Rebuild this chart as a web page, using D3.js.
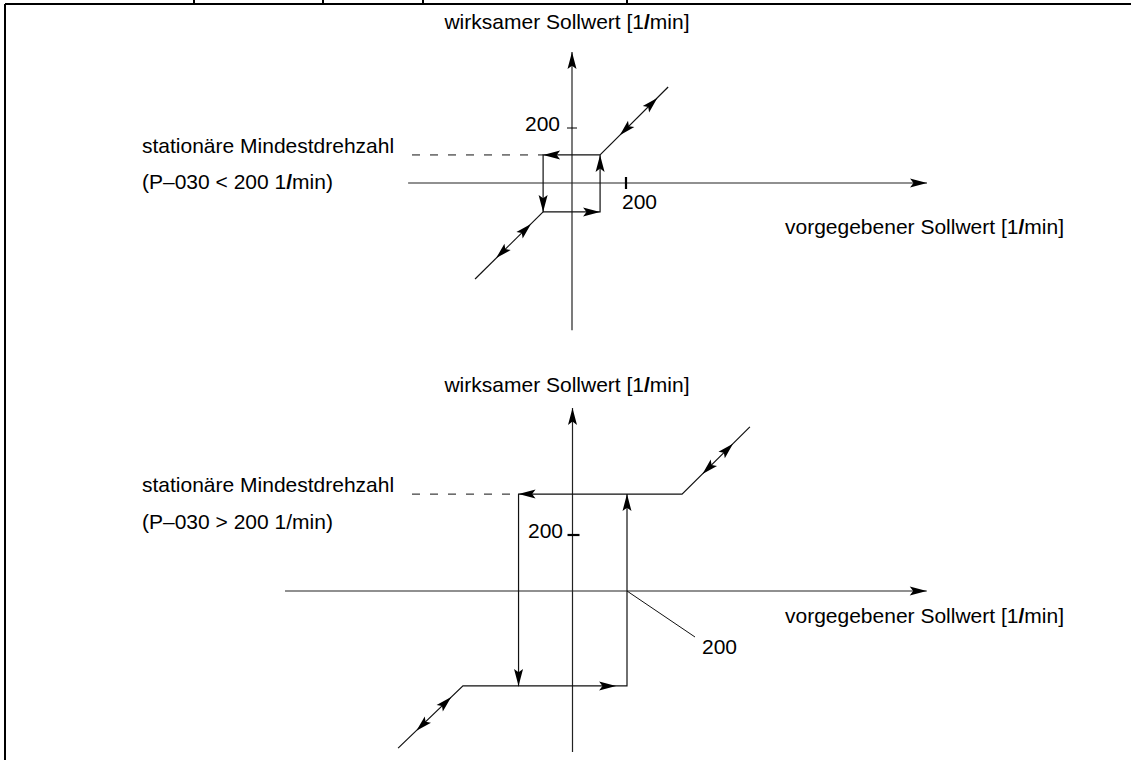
<!DOCTYPE html>
<html>
<head>
<meta charset="utf-8">
<script src="https://cdn.jsdelivr.net/npm/d3@7"></script>
<style>
  html, body { margin: 0; padding: 0; background: #fff; }
  svg text { font-family: "Liberation Sans", Arial, sans-serif; font-size: 21px; fill: #000; }
</style>
</head>
<body>
<svg id="chart" width="1131" height="760"></svg>
<script>
// ---------------- DATA (values in 1/min) ----------------
const tickValue = 200;
const axisLabelY = "wirksamer Sollwert [1/min]";
const axisLabelX = "vorgegebener Sollwert [1/min]";
const minLabel = "stationäre Mindestdrehzahl";
const condTop = "(P–030 < 200 1/min)";
const condBottom = "(P–030 > 200 1/min)";

// Top chart: P-030 < 200
const topXExtent = [-607, 1315];
const topYExtent = [-535, 476];
const topLoop = [[-107, 102], [104, 102], [104, -105], [-107, -105]];   // UL, UR, LR, LL
const topDiagUpper = [[104, 102], [356, 349]];
const topDiagLower = [[-107, -105], [-359, -349]];
const topDoubleArrows = [
  [[177, 174], [316, 309]],
  [[-152, -149], [-281, -273]]
];

// Bottom chart: P-030 > 200
const botXExtent = [-1055, 1300];
const botYExtent = [-575, 654];
const botLoop = [[-198, 346], [200, 346], [200, -339], [-198, -339]];
const botUpperRight = [[200, 346], [402, 346], [651, 586]];
const botLowerLeft = [[-198, -339], [-402, -339], [-640, -561]];
const botDoubleArrows = [
  [[477, 418], [589, 526]],
  [[-445, -379], [-573, -499]]
];

// ---------------- DRAWING ----------------
const svg = d3.select("#chart");
const ink = "#111";

// frame
svg.append("line").attr("x1", 5).attr("x2", 1131).attr("y1", 4).attr("y2", 4)
  .attr("stroke", "#000").attr("stroke-width", 2);
svg.append("line").attr("x1", 5).attr("x2", 5).attr("y1", 4).attr("y2", 760)
  .attr("stroke", "#000").attr("stroke-width", 2);
[194, 323, 423, 627].forEach(x => {
  svg.append("line").attr("x1", x).attr("x2", x).attr("y1", 0).attr("y2", 4)
    .attr("stroke", "#000").attr("stroke-width", 2);
});

function arrowHead(g, tip, from, len, half) {
  const dx = tip[0] - from[0], dy = tip[1] - from[1];
  const d = Math.hypot(dx, dy) || 1;
  const ux = dx / d, uy = dy / d;
  const bx = tip[0] - ux * len, by = tip[1] - uy * len;
  const px = -uy * half, py = ux * half;
  g.append("path")
    .attr("d", `M${tip[0]},${tip[1]}L${bx + px},${by + py}L${tip[0] - ux * len * 0.8},${tip[1] - uy * len * 0.8}L${bx - px},${by - py}Z`)
    .attr("fill", "#000");
}

function slashText(sel, str, boldSlash) {
  const parts = str.split("/");
  parts.forEach((p, i) => {
    if (i > 0) {
      const t = sel.append("tspan").text("/");
      if (boldSlash) t.attr("font-weight", "bold");
    }
    sel.append("tspan").text(p);
  });
}

function drawChart(cfg) {
  const g = svg.append("g");
  const x = d3.scaleLinear().domain([0, tickValue]).range(cfg.xRange);
  const y = d3.scaleLinear().domain([0, tickValue]).range(cfg.yRange);
  const P = p => [x(p[0]), y(p[1])];

  // axes
  g.append("line").attr("x1", x(cfg.xExt[0])).attr("x2", x(cfg.xExt[1]))
    .attr("y1", y(0)).attr("y2", y(0)).attr("stroke", "#222").attr("stroke-width", 1.2);
  arrowHead(g, [x(cfg.xExt[1]), y(0)], [x(0), y(0)], 17, 4.5);
  g.append("line").attr("x1", x(0)).attr("x2", x(0))
    .attr("y1", y(cfg.yExt[0])).attr("y2", y(cfg.yExt[1])).attr("stroke", "#222").attr("stroke-width", 1.2);
  arrowHead(g, [x(0), y(cfg.yExt[1])], [x(0), y(0)], 17, 4.5);

  // axis labels
  slashText(g.append("text").attr("x", 567).attr("y", cfg.yLabelY).attr("text-anchor", "middle"), axisLabelY, true);
  slashText(g.append("text").attr("x", 1064).attr("y", cfg.xLabelY).attr("text-anchor", "end"), axisLabelX, true);

  // min speed labels
  g.append("text").attr("x", 142).attr("y", cfg.minLabelY).text(minLabel);
  slashText(g.append("text").attr("x", 142).attr("y", cfg.condY), cfg.cond, cfg.condBold);

  // loop lines
  const line = d3.line().x(d => x(d[0])).y(d => y(d[1]));
  const L = cfg.loop;
  g.append("path").attr("d", line([L[1], L[0], L[3], L[2], L[1]]))
    .attr("fill", "none").attr("stroke", ink).attr("stroke-width", 1.2);
  // dashed extension
  g.append("line").attr("x1", 412).attr("x2", x(L[0][0]))
    .attr("y1", y(L[0][1])).attr("y2", y(L[0][1]))
    .attr("stroke", ink).attr("stroke-width", 1).attr("stroke-dasharray", "8,10");
  // branches
  cfg.branches.forEach(b => {
    g.append("path").attr("d", line(b)).attr("fill", "none").attr("stroke", ink).attr("stroke-width", 1.2);
  });
  // loop arrows
  arrowHead(g, P(L[0]), P(L[1]), 17, 4.5);
  arrowHead(g, P(L[3]), P(L[0]), 17, 4.5);
  arrowHead(g, cfg.bottomTip ? [x(cfg.bottomTip), y(L[2][1])] : P(L[2]), P(L[3]), 17, 4.5);
  arrowHead(g, P(L[1]), P(L[2]), 17, 4.5);
  // double arrows
  cfg.doubles.forEach(d => {
    arrowHead(g, P(d[0]), P(d[1]), 16, 4.5);
    arrowHead(g, P(d[1]), P(d[0]), 16, 4.5);
  });

  // ticks
  g.append("line").attr("x1", x(0) - cfg.yTickL).attr("x2", x(0) + cfg.yTickR)
    .attr("y1", y(tickValue)).attr("y2", y(tickValue)).attr("stroke", "#000").attr("stroke-width", cfg.yTickW);
  g.append("text").attr("x", cfg.yTickLabelX).attr("y", cfg.yTickLabelY)
    .attr("text-anchor", "end").text(tickValue);
  return {x, y, g};
}

// top chart
const t = drawChart({
  xRange: [572, 626], yRange: [183, 128],
  xExt: topXExtent, yExt: topYExtent,
  yLabelY: 29, xLabelY: 234, minLabelY: 153, condY: 189, cond: condTop, condBold: true,
  loop: topLoop, branches: [topDiagUpper, topDiagLower], doubles: topDoubleArrows,
  yTickL: 5, yTickR: 5, yTickW: 1, yTickLabelX: 560, yTickLabelY: 131
});
t.g.append("line").attr("x1", t.x(tickValue)).attr("x2", t.x(tickValue))
  .attr("y1", t.y(0) - 6).attr("y2", t.y(0) + 6).attr("stroke", "#000").attr("stroke-width", 2.2);
t.g.append("text").attr("x", 622).attr("y", 209).text(tickValue);

// bottom chart
const b = drawChart({
  xRange: [572.5, 627], yRange: [591, 535],
  xExt: botXExtent, yExt: botYExtent,
  yLabelY: 392, xLabelY: 623, minLabelY: 492, condY: 529, cond: condBottom, condBold: false,
  loop: botLoop, branches: [botUpperRight, botLowerLeft], doubles: botDoubleArrows,
  bottomTip: 160,
  yTickL: 5, yTickR: 7, yTickW: 2.2, yTickLabelX: 563, yTickLabelY: 538
});
b.g.append("line").attr("x1", b.x(tickValue)).attr("x2", 695)
  .attr("y1", b.y(0)).attr("y2", 637).attr("stroke", ink).attr("stroke-width", 1);
b.g.append("text").attr("x", 702).attr("y", 654).text(tickValue);
</script>
</body>
</html>
